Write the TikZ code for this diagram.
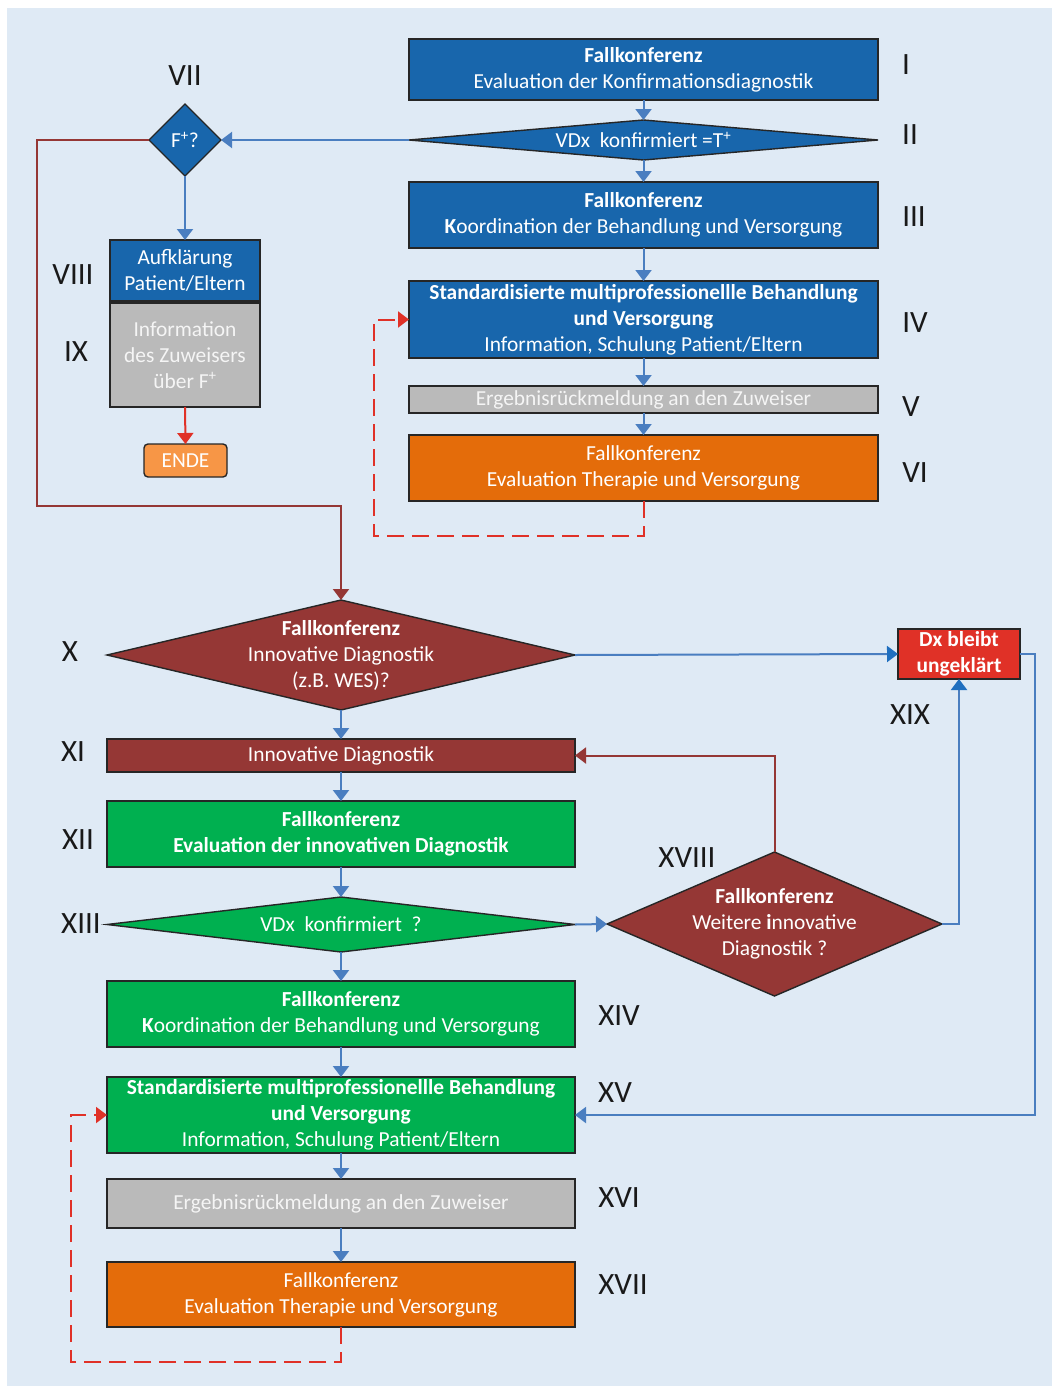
\documentclass[tikz,border=0pt]{standalone}
\usepackage{fontspec}
\setmainfont{Carlito}
\usepackage{xcolor}
\usetikzlibrary{arrows.meta,shapes.geometric}

\definecolor{bgblue}{RGB}{223,234,245}
\definecolor{boxblue}{RGB}{24,102,172}
\definecolor{lineblue}{RGB}{74,126,192}
\definecolor{tipblue}{RGB}{31,111,191}
\definecolor{dred}{RGB}{149,55,53}
\definecolor{lred}{RGB}{224,49,39}
\definecolor{boxgreen}{RGB}{0,176,80}
\definecolor{boxorange}{RGB}{228,108,10}
\definecolor{endorange}{RGB}{247,150,70}
\definecolor{boxgray}{RGB}{186,186,186}

\newcommand{\ftxt}{\fontsize{21.4}{26}\selectfont}
\newcommand{\flab}{\fontsize{31}{34}\selectfont}

\begin{document}
\begin{tikzpicture}[x=1pt,y=-1pt,line width=2pt,
    box/.style={draw=black!85,line width=1.4pt,inner sep=0pt,outer sep=0pt,align=center,text=white,font=\ftxt,minimum width=469pt},
    dia/.style={diamond,draw=black!85,line width=1.4pt,inner sep=0pt,outer sep=0pt},
    txt/.style={align=center,text=white,font=\ftxt},
    lab/.style={font=\flab,text=black!90},
    barr/.style={draw=lineblue,-{Triangle[width=16pt,length=11pt]}},
    darr/.style={draw=lineblue,-{Triangle[width=16pt,length=11pt,color=tipblue]}},
    rarr/.style={draw=dred,-{Triangle[width=16pt,length=11pt]}},
    larr/.style={draw=lred,-{Triangle[width=16pt,length=11pt]}},
    dloop/.style={draw=lred,dash pattern=on 17pt off 8pt,-{Triangle[width=16pt,length=11pt]}}]
  \useasboundingbox (0,0) rectangle (1052,1386);
  \fill[bgblue] (7,8) rectangle (1052,1386);

  % upper column
  \node[box,fill=boxblue,minimum height=61pt] (b1) at (643.5,69.5) {\textbf{Fallkonferenz}\\Evaluation der Konfirmationsdiagnostik};
  \node[dia,fill=boxblue,minimum width=469pt,minimum height=40pt] (d2) at (643.5,140) {};
  \node[txt] (t2) at (d2) {VDx\ \ konfirmiert =T\textsuperscript{+}};
  \node[box,fill=boxblue,minimum height=66pt] (b3) at (643.5,215) {\textbf{Fallkonferenz}\\\textbf{K}oordination der Behandlung und Versorgung};
  \node[box,fill=boxblue,minimum height=77pt] (b4) at (643.5,319.5) {\textbf{Standardisierte multiprofessionellle Behandlung}\\\textbf{und Versorgung}\\Information, Schulung Patient/Eltern};
  \node[box,fill=boxgray,text=white!92!gray,minimum height=27pt] (b5) at (643.5,399.5) {Ergebnisrückmeldung an den Zuweiser};
  \node[box,fill=boxorange,minimum height=66pt] (b6) at (643.5,468) {Fallkonferenz\\Evaluation Therapie und Versorgung};

  % left column
  \node[dia,fill=boxblue,minimum width=72pt,minimum height=72pt] (d7) at (185,140) {};
  \node[txt] (t7) at (d7) {F\textsuperscript{+}?};
  \node[box,fill=boxblue,minimum width=150pt,minimum height=61pt] (b8) at (185,270.5) {Aufklärung\\Patient/Eltern};
  \node[box,fill=boxgray,text=white!92!gray,minimum width=150pt,minimum height=104pt] (b9) at (185,355) {Information\\des Zuweisers\\über F\textsuperscript{+}};
  \node[box,fill=endorange,rounded corners=4pt,minimum width=83pt,minimum height=33pt] (ende) at (185.5,460.5) {ENDE};

  % lower column
  \node[dia,fill=dred,minimum width=468pt,minimum height=110pt] (d10) at (341,655) {};
  \node[txt] (t10) at (d10) {\textbf{Fallkonferenz}\\Innovative Diagnostik\\(z.B. WES)?};
  \node[box,fill=dred,minimum width=468pt,minimum height=33pt] (b11) at (341,755.5) {Innovative Diagnostik};
  \node[box,fill=boxgreen,minimum width=468pt,minimum height=66pt] (b12) at (341,834) {\textbf{Fallkonferenz}\\\textbf{Evaluation der innovativen Diagnostik}};
  \node[dia,fill=boxgreen,minimum width=468pt,minimum height=55pt] (d13) at (341,924.5) {};
  \node[txt] (t13) at (d13) {VDx\ \ konfirmiert\ \ ?};
  \node[box,fill=boxgreen,minimum width=468pt,minimum height=66pt] (b14) at (341,1014) {\textbf{Fallkonferenz}\\\textbf{K}oordination der Behandlung und Versorgung};
  \node[box,fill=boxgreen,minimum width=468pt,minimum height=76pt] (b15) at (341,1115) {\textbf{Standardisierte multiprofessionellle Behandlung}\\\textbf{und Versorgung}\\Information, Schulung Patient/Eltern};
  \node[box,fill=boxgray,text=white!92!gray,minimum width=468pt,minimum height=49pt] (b16) at (341,1203.5) {Ergebnisrückmeldung an den Zuweiser};
  \node[box,fill=boxorange,minimum width=468pt,minimum height=65pt] (b17) at (341,1294.5) {Fallkonferenz\\Evaluation Therapie und Versorgung};
  \node[dia,fill=dred,minimum width=335pt,minimum height=144pt] (d18) at (774.5,924) {};
  \node[txt] (t18) at (774.5,924) {\textbf{Fallkonferenz}\\Weitere \textbf{i}nnovative\\Diagnostik ?};
  \node[box,fill=lred,minimum width=122pt,minimum height=50pt] (dx) at (959,654) {\textbf{Dx bleibt}\\\textbf{ungeklärt}};

  % numerals
  \node[lab] (lI) at (906,65) {I};
  \node[lab] (lII) at (910,135) {II};
  \node[lab] (lIII) at (914,217) {III};
  \node[lab] (lIV) at (915,323) {IV};
  \node[lab] (lV) at (911,407) {V};
  \node[lab] (lVI) at (915,473) {VI};
  \node[lab] (lVII) at (185,76) {VII};
  \node[lab] (lVIII) at (73,275) {VIII};
  \node[lab] (lIX) at (76,352) {IX};
  \node[lab] (lX) at (70,652) {X};
  \node[lab] (lXI) at (73,752) {XI};
  \node[lab] (lXII) at (78,840) {XII};
  \node[lab] (lXIII) at (81,924) {XIII};
  \node[lab] (lXIV) at (619,1016) {XIV};
  \node[lab] (lXV) at (615,1093) {XV};
  \node[lab] (lXVI) at (619,1198) {XVI};
  \node[lab] (lXVII) at (623,1285) {XVII};
  \node[lab] (lXVIII) at (687,858) {XVIII};
  \node[lab] (lXIX) at (910,715) {XIX};

  % corners
  \coordinate (c7) at (37,506);
  \coordinate (c6) at (374,536);
  \coordinate (c19) at (1035,1115);
  \coordinate (c17) at (71,1362);

  % connectors
  \draw[barr] (b1) -- (d2);
  \draw[barr] (d2) -- (b3);
  \draw[barr] (b3) -- (b4);
  \draw[barr] (b4) -- (b5);
  \draw[barr] (b5) -- (b6);
  \draw[dloop] (b6.south) |- (c6) |- (b4.west);
  \draw[barr] (d2.west) -- (d7.east);
  \draw[barr] (d7.south) -- (b8.north);
  \draw[larr] (b9.south) -- (ende.north);
  \draw[rarr] (d7.west) -| (c7) -| (d10.north);
  \draw[darr] (d10.east) -- (dx.west);
  \draw[barr] (d10.south) -- (b11.north);
  \draw[barr] (b11) -- (b12);
  \draw[barr] (b12.south) -- (d13.north);
  \draw[barr] (d13.east) -- (d18.west);
  \draw[rarr] (d18.north) |- (b11.east);
  \draw[darr] (d18.east) -| (dx.south);
  \draw[barr] (dx.east) -| (c19) -- (b15.east);
  \draw[barr] (d13.south) -- (b14.north);
  \draw[barr] (b14) -- (b15);
  \draw[barr] (b15) -- (b16);
  \draw[barr] (b16) -- (b17);
  \draw[dloop] (b17.south) |- (c17) |- (b15.west);
\end{tikzpicture}
\end{document}
